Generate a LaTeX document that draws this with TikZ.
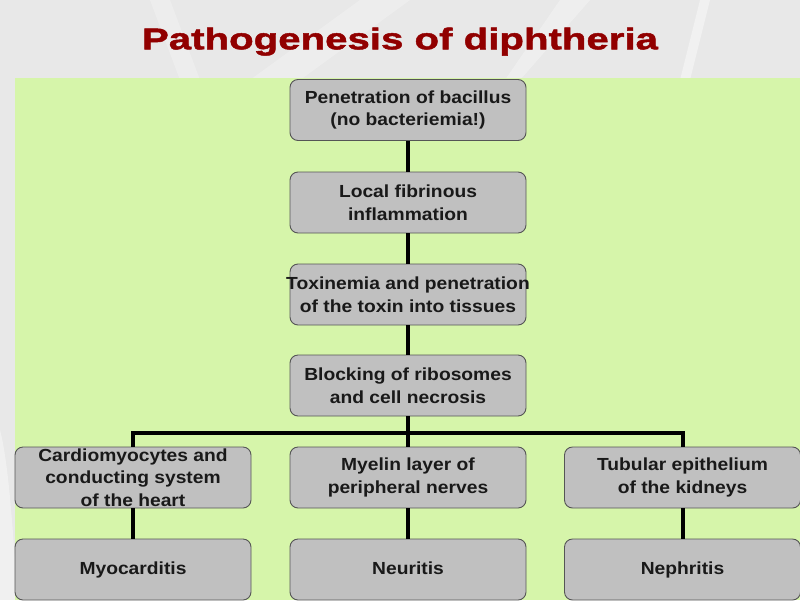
\documentclass[tikz,border=0pt]{standalone}
\usepackage{fontspec}
\setmainfont[FakeStretch=1.1]{Liberation Sans}
\newfontfamily\titlefont[FakeStretch=1.34,FakeBold=1.6]{Liberation Sans}
\definecolor{panelgreen}{RGB}{214,245,170}
\definecolor{boxgrey}{RGB}{192,192,192}
\definecolor{boxedge}{RGB}{85,85,85}
\definecolor{titlered}{RGB}{145,0,0}
\definecolor{bgrey}{RGB}{232,232,232}
\tikzset{
  stagebox/.style={draw=boxedge, line width=0.9pt, fill=boxgrey, rounded corners=8pt,
    minimum width=236pt, minimum height=61pt, align=center, inner sep=0pt,
    font=\fontsize{17.5}{22.5}\selectfont\bfseries, text=black!90},
  link/.style={line width=4pt, black}
}
\begin{document}
\begin{tikzpicture}[x=1pt,y=-1pt]
\useasboundingbox (0,0) rectangle (800,600);
\begin{scope}
\clip (0,0) rectangle (800,600);
\fill[bgrey] (0,0) rectangle (800,600);
\fill[white,opacity=0.25] (150,0) -- (170,0) -- (200,80) -- (180,80) -- cycle;
\fill[white,opacity=0.25] (360,0) -- (410,0) -- (300,80) -- (250,80) -- cycle;
\fill[white,opacity=0.4] (700,0) -- (710,0) -- (690,80) -- (680,80) -- cycle;
\fill[white,opacity=0.3] (560,0) -- (590,0) -- (520,80) -- (505,80) -- cycle;
\fill[white,opacity=0.35] (0,430) .. controls (8,460) and (12,520) .. (15,560) -- (15,600) -- (0,600) -- cycle;
\fill[panelgreen] (15,78) rectangle (800,600);

\node[font=\titlefont\fontsize{30}{34}\selectfont\bfseries, text=titlered, anchor=base, inner sep=0pt] (title) at (400,49.3) {Pathogenesis of diphtheria};

\node[stagebox] (b1) at (408,110) {Penetration of bacillus\\(no bacteriemia!)};
\node[stagebox] (b2) at (408,202.5) {Local fibrinous\\inflammation};
\node[stagebox] (b3) at (408,294.5) {\makebox[236pt]{Toxinemia and penetration}\\of the toxin into tissues};
\node[stagebox] (b4) at (408,385.5) {Blocking of ribosomes\\and cell necrosis};
\node[stagebox] (b5) at (133,477.5) {Cardiomyocytes and\\conducting system\\of the heart};
\node[stagebox] (b6) at (408,477.5) {Myelin layer of\\peripheral nerves};
\node[stagebox] (b7) at (682.5,477.5) {Tubular epithelium\\of the kidneys};
\node[stagebox] (b8) at (133,569.5) {Myocarditis};
\node[stagebox] (b9) at (408,569.5) {Neuritis\vphantom{y}};
\node[stagebox] (b10) at (682.5,569.5) {Nephritis};
\coordinate (bar) at (408,433);

\draw[link] (b1.south) -- (b2.north);
\draw[link] (b2.south) -- (b3.north);
\draw[link] (b3.south) -- (b4.north);
\draw[link] (b4.south) -- (b6.north);
\draw[link] (b5.north) |- (bar) -| (b7.north);
\draw[link] (b5.south) -- (b8.north);
\draw[link] (b6.south) -- (b9.north);
\draw[link] (b7.south) -- (b10.north);
\end{scope}
\end{tikzpicture}
\end{document}
